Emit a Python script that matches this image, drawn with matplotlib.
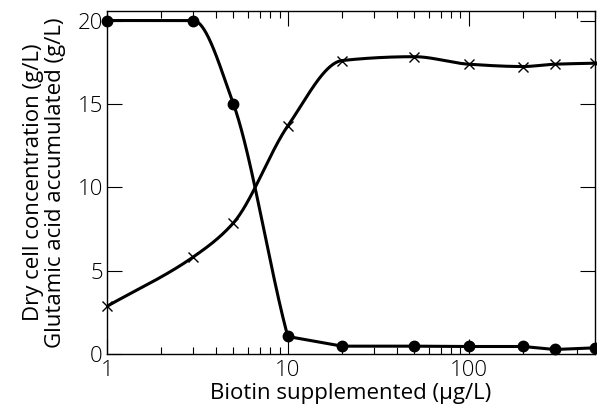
import numpy as np
import matplotlib
matplotlib.use("Agg")
import matplotlib.pyplot as plt
from matplotlib.ticker import LogLocator, NullFormatter, FixedLocator

# data
biotin_cell = [1, 3, 5, 10, 20, 50, 100, 200, 300, 500]
dry_cell = [20.0, 20.0, 15.0, 1.05, 0.47, 0.47, 0.45, 0.45, 0.27, 0.37]

biotin_glu = [1, 3, 5, 10, 20, 50, 100, 200, 300, 500]
glutamic = [2.86, 5.82, 7.86, 13.68, 17.6, 17.83, 17.38, 17.24, 17.38, 17.44]

y_ticks = [0, 5, 10, 15, 20]
x_ticks = [1, 10, 100]
x_labels = ["1", "10", "100"]


def pchip(x, y, n=200, end_slope=None):
    # monotone cubic through the points, in log10(x)
    lx = np.log10(np.asarray(x, float))
    y = np.asarray(y, float)
    h = np.diff(lx)
    d = np.diff(y) / h
    m = np.zeros_like(y)
    for k in range(1, len(y) - 1):
        if d[k - 1] * d[k] > 0:
            w1 = 2 * h[k] + h[k - 1]
            w2 = h[k] + 2 * h[k - 1]
            m[k] = (w1 + w2) / (w1 / d[k - 1] + w2 / d[k])
    m[0] = d[0]
    m[-1] = d[-1] if end_slope is None else end_slope
    xs, ys = [], []
    for k in range(len(h)):
        t = np.linspace(0, 1, n)
        h00 = 2 * t**3 - 3 * t**2 + 1
        h10 = t**3 - 2 * t**2 + t
        h01 = -2 * t**3 + 3 * t**2
        h11 = t**3 - t**2
        xs.append(lx[k] + t * h[k])
        ys.append(h00 * y[k] + h10 * h[k] * m[k] + h01 * y[k + 1] + h11 * h[k] * m[k + 1])
    return 10 ** np.concatenate(xs), np.concatenate(ys)


plt.rcParams['font.family'] = ['Open Sans', 'DejaVu Sans']
plt.rcParams['font.weight'] = 'light'
fig = plt.figure(figsize=(5.97, 4.11), dpi=100)
ax = fig.add_axes([107 / 597, 1 - 354 / 411, (595 - 107) / 597, (354 - 11) / 411])

# dry cell: smooth drop up to 10, straight segments afterwards
cx, cy = pchip(biotin_cell[:4], dry_cell[:4], end_slope=-40)
ax.plot(cx, cy, color="black", lw=2.2, zorder=2)
ax.plot(biotin_cell[3:], dry_cell[3:], color="black", lw=2.2, zorder=2)
ax.plot(biotin_cell, dry_cell, "o", color="black", ms=7.5, zorder=3, clip_on=False)

gx, gy = pchip(biotin_glu, glutamic)
ax.plot(gx, gy, color="black", lw=2.2, zorder=2)
ax.plot(biotin_glu, glutamic, "x", color="black", ms=6.5, mew=1.0, zorder=3, clip_on=False)

ax.set_xscale("log")
ax.set_xlim(1, 500)
ax.set_ylim(0, 20.57)
ax.xaxis.set_major_locator(FixedLocator(x_ticks))
ax.set_xticklabels(x_labels)
ax.xaxis.set_minor_locator(LogLocator(base=10, subs=np.arange(2, 10)))
ax.xaxis.set_minor_formatter(NullFormatter())
ax.set_yticks(y_ticks)

ax.tick_params(axis="both", which="major", direction="in", length=11, width=0.8,
               labelsize=16, top=True, right=True)
ax.tick_params(axis="x", which="major", pad=4)
ax.tick_params(axis="y", which="major", pad=3)
ax.tick_params(axis="x", which="minor", direction="in", length=5, width=0.8, top=True)
for s in ax.spines.values():
    s.set_linewidth(1.0)

ax.set_xlabel("Biotin supplemented (\u03bcg/L)", fontsize=16, labelpad=2)
ax.set_ylabel("Dry cell concentration (g/L)\nGlutamic acid accumulated (g/L)",
              fontsize=16, labelpad=8, linespacing=1.1)

fig.savefig("out.png", dpi=100)
